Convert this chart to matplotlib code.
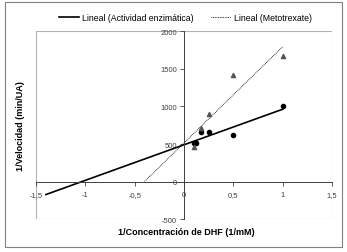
import numpy as np
import matplotlib
matplotlib.use("Agg")
import matplotlib.pyplot as plt
from matplotlib.patches import Rectangle

plt.rcParams['font.family'] = ['Liberation Sans', 'DejaVu Sans']

# ── Data ───────────────────────────────────────
x_enz = [0.1, 0.125, 0.167, 0.25, 0.5, 1.0]
y_enz = [510, 520, 655, 655, 615, 1000]

x_mtx = [0.1, 0.167, 0.25, 0.5, 1.0]
y_mtx = [460, 710, 900, 1420, 1670]

xticks = [-1.5, -1, -0.5, 0, 0.5, 1, 1.5]
xtick_labels = ["-1,5", "-1", "-0,5", "0", "0,5", "1", "1,5"]
yticks = [-500, 0, 500, 1000, 1500, 2000]
ytick_labels = ["-500", "0", "500", "1000", "1500", "2000"]

# ── Trend lines (linear fit, Excel-like backward forecast) ──
m1, b1 = np.polyfit(x_enz, y_enz, 1)
m2, b2 = np.polyfit(x_mtx, y_mtx, 1)
xl1 = np.array([min(x_enz) - 1.5, max(x_enz)])
xl2 = np.array([min(x_mtx) - 0.5, max(x_mtx)])

# ── Plot ───────────────────────────────────────
fig = plt.figure(figsize=(3.47, 2.53), dpi=100)
fig.patches.append(Rectangle((5 / 347, 5 / 253), 337 / 347, 245 / 253,
                             transform=fig.transFigure, fill=False,
                             edgecolor="#808080", linewidth=0.8))

ax = fig.add_axes([0.104, 0.130, 0.853, 0.742])
ax.set_xlim(-1.5, 1.5)
ax.set_ylim(-500, 2000)

for s in ["top", "right"]:
    ax.spines[s].set_visible(False)
ax.spines["left"].set_position(("data", 0))
ax.spines["bottom"].set_position(("data", 0))
for s in ["left", "bottom"]:
    ax.spines[s].set_color("#404040")
    ax.spines[s].set_linewidth(0.7)
ax.add_patch(Rectangle((0, 0), 1, 1, transform=ax.transAxes, fill=False,
                       edgecolor="#b0b0b0", linewidth=0.8, zorder=0))

ax.set_xticks(xticks)
ax.set_xticklabels(xtick_labels)
ax.set_yticks(yticks)
ax.set_yticklabels(ytick_labels)
ax.tick_params(axis="both", labelsize=5.5, colors="#404040", length=3,
               width=0.6, direction="out", pad=2)
ax.tick_params(axis="x", pad=4)

ax.plot(xl1, m1 * xl1 + b1, color="black", linewidth=1.2,
        label="Lineal (Actividad enzimática)")
ax.plot(xl2, m2 * xl2 + b2, color="black", linewidth=0.6, linestyle=(0, (1, 1)),
        label="Lineal (Metotrexate)")
ax.scatter(x_enz, y_enz, marker="o", s=9, color="black", zorder=3)
ax.scatter(x_mtx, y_mtx, marker="^", s=9, color="#555555", zorder=3)

fig.legend(loc="center", bbox_to_anchor=(0.535, 0.925), ncol=2, frameon=False,
           handlelength=2.3, columnspacing=2.0, handletextpad=0.3,
           prop={"size": 6.3})

fig.text(0.536, 0.083, "1/Concentración de DHF (1/mM)", ha="center",
         va="center", fontsize=6.5, fontweight="bold")
fig.text(0.06, 0.5, "1/Velocidad (min/UA)", ha="center", va="center",
         rotation=90, fontsize=6.5, fontweight="bold")

plt.savefig("out.png", dpi=100)
